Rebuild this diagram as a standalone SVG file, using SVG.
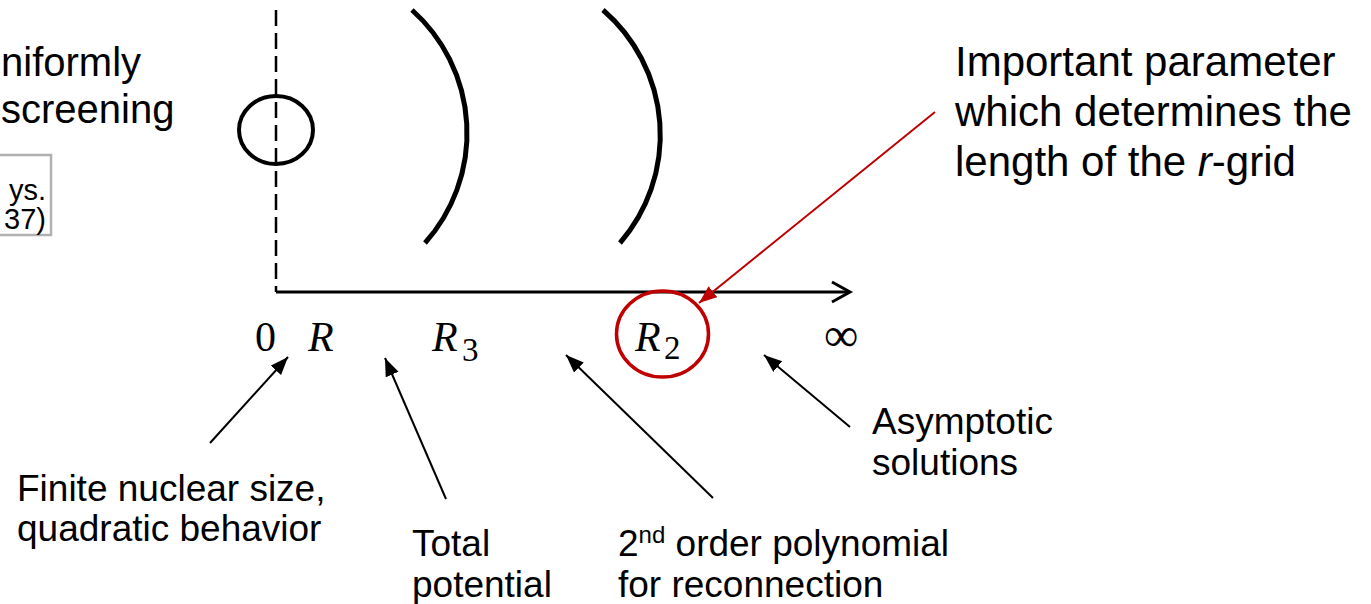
<svg xmlns="http://www.w3.org/2000/svg" width="1371" height="604" viewBox="0 0 1371 604">
<style>
.t{font-family:"Liberation Sans",Arial,sans-serif;fill:#000}
.m{font-family:"Liberation Serif","DejaVu Serif",serif;fill:#000}
.conn{stroke:#000;stroke-width:2;fill:none}
.red{stroke:#c00000;stroke-width:2;fill:none}
</style>
<defs>
<marker id="ah" markerUnits="userSpaceOnUse" markerWidth="20" markerHeight="16" refX="18" refY="7" orient="auto">
<path d="M0,0 L18,7 L0,14 Z" fill="#000"/>
</marker>
<marker id="ahr" markerUnits="userSpaceOnUse" markerWidth="20" markerHeight="16" refX="18" refY="7" orient="auto">
<path d="M0,0 L18,7 L0,14 Z" fill="#c00000"/>
</marker>
</defs>
<rect width="1371" height="604" fill="#fff"/>

<g id="left-text">
<text class="t" x="1" y="76" font-size="40">niformly</text>
<text class="t" x="1" y="123" font-size="40">screening</text>
</g>
<g id="ref-box">
<rect x="-10" y="155" width="61" height="80" fill="#fff" stroke="#b0b0b0" stroke-width="2.5"/>
<text class="t" x="46" y="200" font-size="29" text-anchor="end">ys.</text>
<text class="t" x="46" y="229" font-size="29" text-anchor="end">37)</text>
</g>

<g id="axes">
<line x1="276" y1="10" x2="276" y2="292" stroke="#000" stroke-width="2.5" stroke-dasharray="16 7"/>
<line x1="276" y1="292" x2="849" y2="292" stroke="#000" stroke-width="3"/>
<polyline points="832,282 850,292 832,302" fill="none" stroke="#000" stroke-width="3"/>
</g>
<g id="nucleus">
<ellipse cx="276" cy="130" rx="37" ry="34" fill="none" stroke="#000" stroke-width="4"/>
</g>
<g id="arc1">
<path d="M412,10 A165,165 0 0 1 425,243" fill="none" stroke="#000" stroke-width="5"/>
</g>
<g id="arc2">
<path d="M603,10 A165,165 0 0 1 620,243" fill="none" stroke="#000" stroke-width="5"/>
</g>

<g id="labels">
<text class="m" x="255" y="351" font-size="42">0</text>
<text class="m" x="308" y="351" font-size="42" font-style="italic">R</text>
<text class="m" x="432" y="351" font-size="42" font-style="italic">R</text>
<text class="m" x="462" y="361" font-size="33">3</text>
<text class="m" x="635" y="351" font-size="42" font-style="italic">R</text>
<text class="m" x="664" y="359" font-size="33">2</text>
<text class="m" x="824" y="351" font-size="48">∞</text>
</g>
<g id="r2-highlight">
<ellipse cx="662.5" cy="334" rx="46" ry="43" fill="none" stroke="#c00000" stroke-width="3.5"/>
</g>

<g id="right-text">
<text class="t" x="955" y="76" font-size="42">Important parameter</text>
<text class="t" x="955" y="126" font-size="42">which determines the</text>
<text class="t" x="955" y="176" font-size="42">length of the <tspan font-style="italic">r</tspan>-grid</text>
</g>

<g id="bottom-text">
<text class="t" x="17" y="501" font-size="37">Finite nuclear size,</text>
<text class="t" x="17" y="541" font-size="37">quadratic behavior</text>
<text class="t" x="412" y="556" font-size="37">Total</text>
<text class="t" x="412" y="597" font-size="37">potential</text>
<text class="t" x="618" y="556" font-size="37">2<tspan font-size="24" dy="-13">nd</tspan><tspan dy="13"> order polynomial</tspan></text>
<text class="t" x="618" y="597" font-size="37">for reconnection</text>
<text class="t" x="872" y="434" font-size="37">Asymptotic</text>
<text class="t" x="872" y="475" font-size="37">solutions</text>
</g>

<g id="connectors">
<line class="conn" x1="210" y1="443" x2="288" y2="357" marker-end="url(#ah)"/>
<line class="conn" x1="446" y1="499" x2="385" y2="358" marker-end="url(#ah)"/>
<line class="conn" x1="713" y1="498" x2="566" y2="355" marker-end="url(#ah)"/>
<line class="conn" x1="850" y1="427" x2="764" y2="355" marker-end="url(#ah)"/>
<line class="red" x1="935" y1="112" x2="699" y2="303" marker-end="url(#ahr)"/>
</g>
</svg>
